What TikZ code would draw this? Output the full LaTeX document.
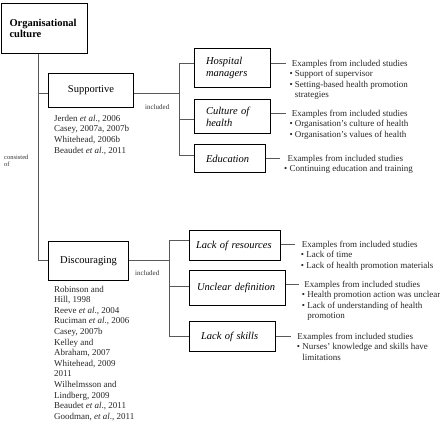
\documentclass[tikz,border=0pt]{standalone}
\usepackage{fontspec}
\setmainfont{Liberation Serif}
\begin{document}
\begin{tikzpicture}[x=1pt,y=-1pt,
  box/.style={draw=black, line width=1.8pt, inner sep=0pt, align=left,
    font=\fontsize{10.5}{12}\selectfont},
  conn/.style={draw=black!65, line width=0.8pt},
  ex/.style={anchor=base west, inner sep=0pt, align=left, text=black!85,
    font=\fontsize{9}{10.5}\selectfont},
  refs/.style={anchor=base west, inner sep=0pt, align=left, text=black!85,
    font=\fontsize{9}{10.6}\selectfont},
  lbl/.style={anchor=base west, inner sep=0pt, align=left, text=black!80,
    font=\fontsize{6.5}{7.5}\selectfont}]
\useasboundingbox (0,0) rectangle (440,424);

% boxes
\node[box, minimum width=86pt, minimum height=50pt, text width=70pt,
  font=\bfseries\fontsize{10.5}{11.5}\selectfont] (org) at (44.5,28.5) {Organisational\\culture};
\node[box, minimum width=85pt, minimum height=34pt, align=center] (sup) at (91,90.5) {\raisebox{-3pt}{Supportive}};
\node[box, minimum width=80pt, minimum height=39pt, align=center] (disc) at (88.5,261) {Discouraging};

\node[box, minimum width=76pt, minimum height=39pt, text width=53pt,
  font=\itshape\fontsize{10.5}{12.5}\selectfont] (hosp) at (232.5,68) {Hospital\\managers};
\node[box, minimum width=76pt, minimum height=34pt, text width=53pt,
  font=\itshape\fontsize{10.5}{12}\selectfont] (cult) at (232.5,116.5) {Culture of\\health};
\node[box, minimum width=71pt, minimum height=28pt, text width=48pt,
  font=\itshape\fontsize{10.5}{12}\selectfont] (edu) at (230,158.5) {Education};

\node[box, minimum width=91pt, minimum height=30pt, text width=78pt,
  font=\itshape\fontsize{10.5}{12}\selectfont] (lres) at (235,245.5) {Lack of resources};
\node[box, minimum width=96pt, minimum height=35pt, text width=81pt,
  font=\itshape\fontsize{10.5}{12}\selectfont] (uncl) at (237.5,288) {Unclear definition};
\node[box, minimum width=86pt, minimum height=30pt, text width=63pt,
  font=\itshape\fontsize{10.5}{12}\selectfont] (lsk) at (232.5,336.5) {Lack of skills};

% reference lists (anchored at the baseline of their last line)
\node[refs] (sref) at (54,153.1) {Jerden \textit{et al}., 2006\\Casey, 2007a, 2007b\\Whitehead, 2006b\\Beaudet \textit{et al}., 2011};
\node[refs] (dref) at (54,419.2) {Robinson and\\Hill, 1998\\Reeve \textit{et al}., 2004\\Ruciman \textit{et al}., 2006\\Casey, 2007b\\Kelley and\\Abraham, 2007\\Whitehead, 2009\\2011\\Wilhelmsson and\\Lindberg, 2009\\Beaudet \textit{et al}., 2011\\Goodman, \textit{et al}., 2011};

% small labels
\node[lbl] (cons) at (4,166.5) {consisted\\of};
\node[lbl, font=\fontsize{7}{8}\selectfont] (inc1) at (145,109.5) {included};
\node[lbl, font=\fontsize{7}{8}\selectfont] (inc2) at (135,275.5) {included};

% example texts (anchored at the baseline of their last line)
\node[ex] (xh) at (289.3,97.5) {\hspace{2.4pt}Examples from included studies\\• Support of supervisor\\• Setting-based health promotion\\\phantom{• }strategies};
\node[ex] (xc) at (289.3,137) {\hspace{2.4pt}Examples from included studies\\• Organisation’s culture of health\\• Organisation’s values of health};
\node[ex] (xe) at (284,171.5) {\hspace{3.3pt}Examples from included studies\\• Continuing education and training};
\node[ex] (xl) at (300.7,268) {\hspace{1pt}Examples from included studies\\• Lack of time\\• Lack of health promotion materials};
\node[ex] (xu) at (301.7,318.5) {\hspace{2.4pt}Examples from included studies\\• Health promotion action was unclear\\• Lack of understanding of health\\\phantom{• }promotion};
\node[ex] (xs) at (296.7,360) {\hspace{0.5pt}Examples from included studies\\• Nurses’ knowledge and skills have\\\phantom{• }limitations};

% connector levels
\coordinate (t0) at (38,54);
\coordinate (ys) at (0,93.5);
\coordinate (yd) at (0,260.5);
\coordinate (j1) at (179,93.5);
\coordinate (j2) at (169,260.5);
\coordinate (yh) at (0,63);
\coordinate (yc) at (0,119);
\coordinate (ye) at (0,155.5);
\coordinate (yl) at (0,240);
\coordinate (yu) at (0,286);
\coordinate (yk) at (0,336);
\coordinate (eh) at (286,63);
\coordinate (ec) at (286,113);
\coordinate (ee) at (280,158);
\coordinate (el) at (295,244);
\coordinate (eu) at (299,284);
\coordinate (es) at (291,336);

% trunk
\draw[conn] (t0) |- (sup.west |- ys);
\draw[conn] (t0) |- (disc.west |- yd);
% supportive branch
\draw[conn] (sup.east |- ys) -- (j1);
\draw[conn] (j1) |- (hosp.west |- yh);
\draw[conn] (j1) |- (cult.west |- yc);
\draw[conn] (j1) |- (edu.west |- ye);
% discouraging branch
\draw[conn] (disc.east |- yd) -- (j2);
\draw[conn] (j2) |- (lres.west |- yl);
\draw[conn] (j2) |- (uncl.west |- yu);
\draw[conn] (j2) |- (lsk.west |- yk);
% to examples
\draw[conn] (hosp.east |- eh) -- (eh);
\draw[conn] (cult.east |- ec) -- (ec);
\draw[conn] (edu.east |- ee) -- (ee);
\draw[conn] (lres.east |- el) -- (el);
\draw[conn] (uncl.east |- eu) -- (eu);
\draw[conn] (lsk.east |- es) -- (es);
\end{tikzpicture}
\end{document}
